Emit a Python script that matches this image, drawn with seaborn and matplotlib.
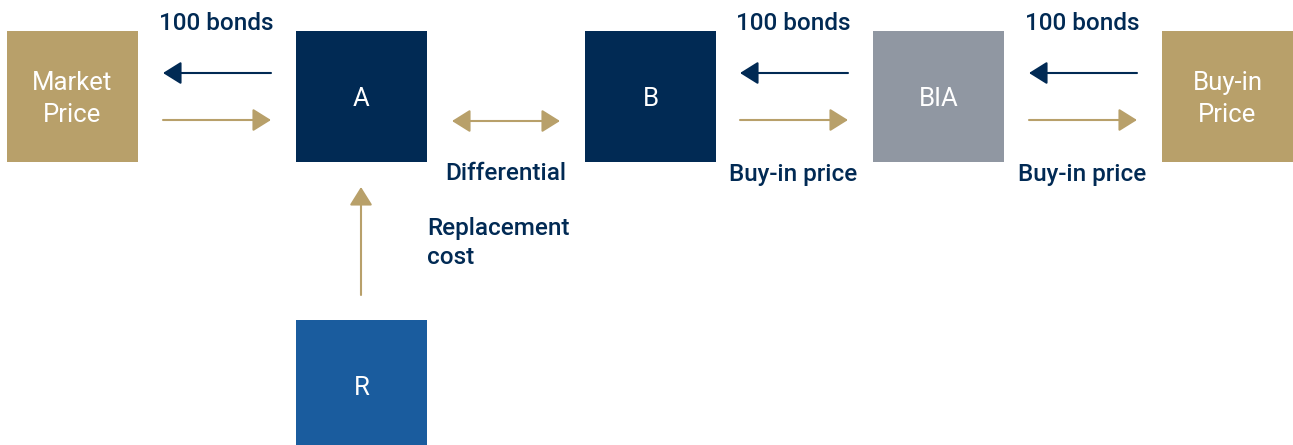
import matplotlib.pyplot as plt
import seaborn as sns
from matplotlib.patches import Rectangle

sns.set_theme(style='white')
plt.rcParams['font.family'] = ['Roboto', 'DejaVu Sans']

NAVY = '#012a54'
GOLD = '#b8a06a'
GREY = '#9097a2'
BLUE = '#1a5c9e'

# boxes of the diagram: label, left, top, colour
box_labels = ['Market\nPrice', 'A', 'B', 'BIA', 'Buy-in\nPrice', 'R']
box_left = [7, 296, 585, 873, 1162, 296]
box_top = [31, 31, 31, 31, 31, 320]
box_colors = [GOLD, NAVY, NAVY, GREY, GOLD, BLUE]
box_size = 131

# horizontal flows between neighbours: bonds go left, cash goes right
flow_left = [163, 740, 1029]
flow_right = [271, 848, 1137]
bond_labels = ['100 bonds', '100 bonds', '100 bonds']
cash_labels = ['', 'Buy-in price', 'Buy-in price']

fig = plt.figure(figsize=(12.93, 4.45), dpi=100)
ax = fig.add_axes([0, 0, 1, 1])
ax.set_xlim(0, 1293)
ax.set_ylim(445, 0)
ax.axis('off')

for lab, x, y, c in zip(box_labels, box_left, box_top, box_colors):
    ax.add_patch(Rectangle((x, y), box_size, box_size, color=c, lw=0))
    ax.text(x + box_size / 2, y + box_size / 2 + 2.5, lab, color='white', fontsize=18.5,
            ha='center', va='center', linespacing=1.4)

head = '-|>,head_length=0.8,head_width=0.5'
arrow = dict(lw=1.5, mutation_scale=14, shrinkA=0, shrinkB=0)
for x0, x1, bl, cl in zip(flow_left, flow_right, bond_labels, cash_labels):
    ax.annotate('', xy=(x0, 73), xytext=(x1, 73),
                arrowprops=dict(arrowstyle=head, color=NAVY, **arrow))
    ax.annotate('', xy=(x1, 120), xytext=(x0, 120),
                arrowprops=dict(arrowstyle=head, color=GOLD, **arrow))
    ax.text((x0 + x1) / 2 - 1, 23, bl, color=NAVY, fontsize=17.5, fontweight='medium',
            ha='center', va='center')
    if cl:
        ax.text((x0 + x1) / 2 - 1, 174, cl, color=NAVY, fontsize=17.5, fontweight='medium',
                ha='center', va='center')

# differential between A and B
ax.annotate('', xy=(560, 121), xytext=(452, 121),
            arrowprops=dict(arrowstyle='<|-|>,head_length=0.8,head_width=0.5', color=GOLD,
                            **arrow))
ax.text(506, 174, 'Differential', color=NAVY, fontsize=17.5, fontweight='medium',
        ha='center', va='center')

# replacement cost from R to A
ax.annotate('', xy=(361, 187), xytext=(361, 295),
            arrowprops=dict(arrowstyle=head, color=GOLD, **arrow))
ax.text(427, 243, 'Replacement\ncost', color=NAVY, fontsize=17.5, fontweight='medium',
        ha='left', va='center', linespacing=1.3)

fig.savefig('out.png', dpi=100)
